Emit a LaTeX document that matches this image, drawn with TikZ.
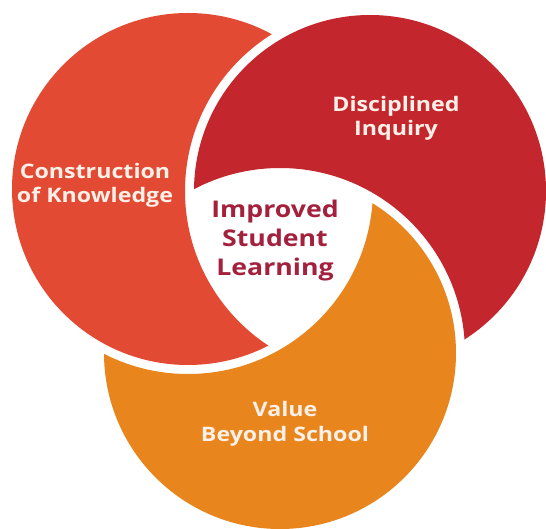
\documentclass[tikz,border=0pt]{standalone}
\usepackage{fontspec}
\setmainfont{Open Sans}
\newfontfamily\lblfont[FakeStretch=1.16]{Open Sans}
\begin{document}
\begin{tikzpicture}[x=1pt,y=-1pt,
  lbl/.style={align=center,inner sep=0pt,text=txtlight},
  midlbl/.style={align=center,inner sep=0pt,text=txtmid}]
\definecolor{cA}{HTML}{E34A33}
\definecolor{cB}{HTML}{C4262E}
\definecolor{cC}{HTML}{E8851C}
\definecolor{txtlight}{HTML}{FCF0E8}
\definecolor{txtmid}{HTML}{A3213D}
\useasboundingbox (0,0) rectangle (546,529);
\fill[white] (0,0) rectangle (546,529);
\coordinate (A) at (188,189);
\coordinate (B) at (370,191);
\coordinate (C) at (280,353);
% Construction of Knowledge: circle A minus (circle B + gap)
\begin{scope}[even odd rule]
  \clip (-20,-20) rectangle (566,549) (B) circle[radius=185pt];
  \fill[cA] (A) circle[radius=176pt];
\end{scope}
% Disciplined Inquiry: circle B minus (circle C + gap)
\begin{scope}[even odd rule]
  \clip (-20,-20) rectangle (566,549) (C) circle[radius=185pt];
  \fill[cB] (B) circle[radius=176pt];
\end{scope}
% Value Beyond School: circle C minus (circle A + gap)
\begin{scope}[even odd rule]
  \clip (-20,-20) rectangle (566,549) (A) circle[radius=185pt];
  \fill[cC] (C) circle[radius=176pt];
\end{scope}
\node[lbl,font=\lblfont\bfseries\fontsize{20}{24}\selectfont] (know) at (95,185) {Construction\\of Knowledge};
\node[lbl,font=\lblfont\bfseries\fontsize{20}{24}\selectfont] (inq) at (396,118) {Disciplined\\Inquiry};
\node[midlbl,font=\lblfont\bfseries\fontsize{23}{29}\selectfont] (isl) at (275,241) {Improved\\Student\\Learning};
\node[lbl,font=\lblfont\bfseries\fontsize{20}{25}\selectfont] (vbs) at (285,424) {Value\\Beyond School};
\end{tikzpicture}
\end{document}
